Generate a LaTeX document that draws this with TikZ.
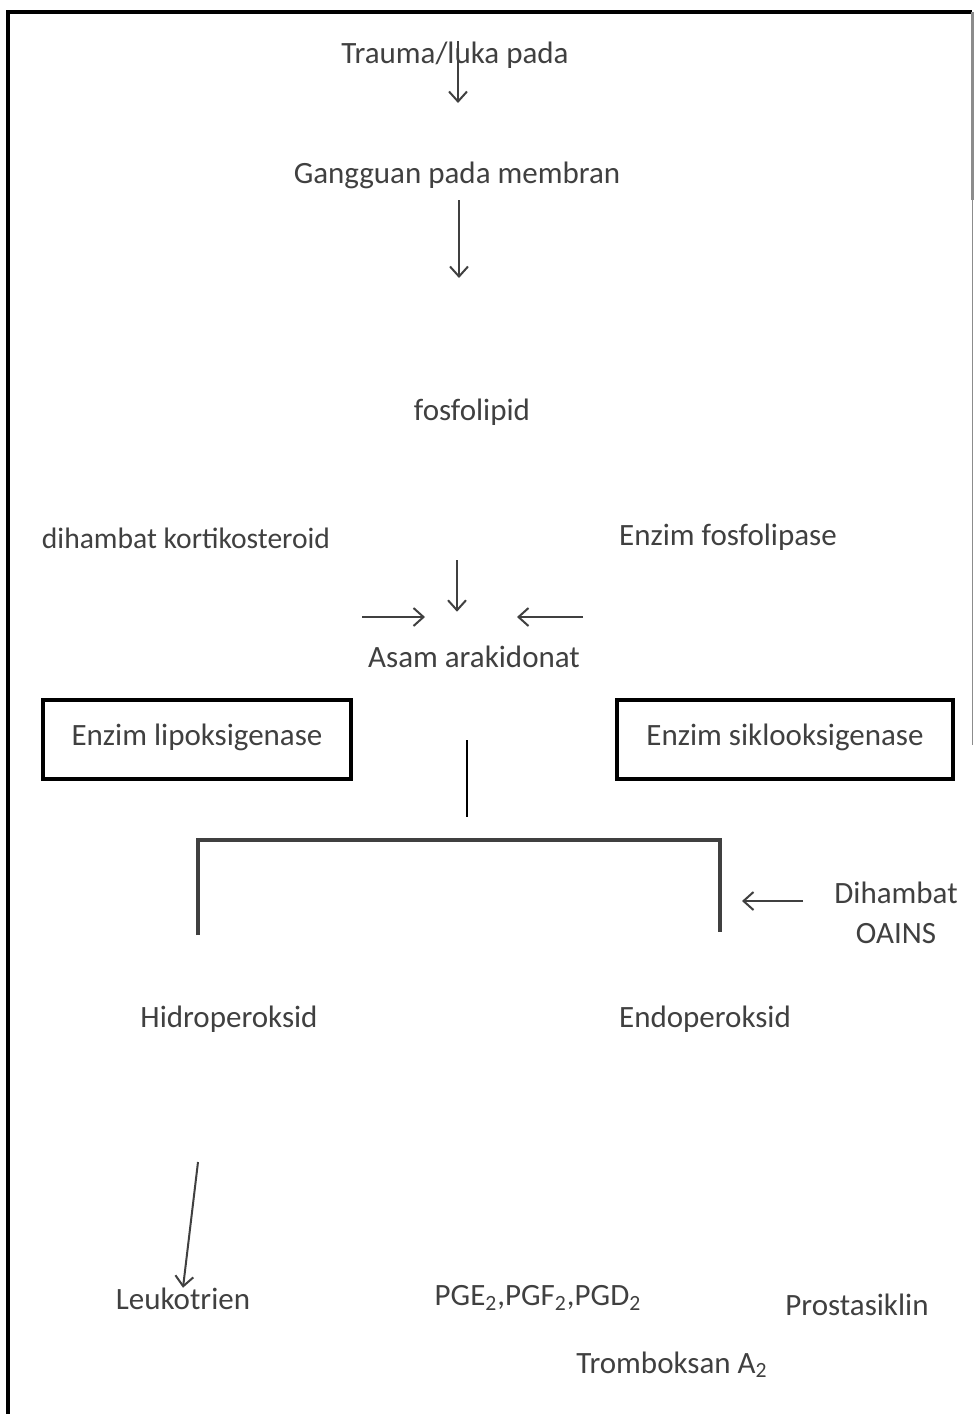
\documentclass[tikz,border=0pt]{standalone}
\usepackage{fontspec}
\setmainfont{Carlito}
\usetikzlibrary{positioning,arrows.meta}
\tikzset{
  txt/.style={font=\fontsize{15.5}{18}\selectfont, text=black!75, inner sep=0pt},
  arr/.style={-{Straight Barb[length=5pt,width=9pt]}, line width=1pt, black!75},
  enzbox/.style={txt, draw=black, line width=1.6pt, inner sep=0pt},
}
\begin{document}
\begin{tikzpicture}[x=0.5pt,y=-0.5pt]
\useasboundingbox (0,0) rectangle (976,1414);
% frame
\draw[line width=2pt] (8,1414) -- (8,12) -- (972,12);
\draw[black!45, line width=1.5pt] (972,12) -- (972,200);
\draw[black!45, line width=0.5pt] (972,200) -- (972,745);

% texts
\node[txt] (trauma) at (455,55) {Trauma/luka pada};
\node[txt] (membran) at (457,175) {Gangguan pada membran};
\node[txt] (fosfo) at (472,412) {fosfolipid};
\node[txt, font=\fontsize{14.8}{18}\selectfont] (kortiko) at (186,538) {dihambat kortikosteroid};
\node[txt] (fosfolipase) at (728,537) {Enzim fosfolipase};
\node[txt] (asam) at (474,657) {Asam arakidonat};
\node[enzbox, minimum width=154pt, minimum height=39.5pt] (lipo) at (197,739.5) {\raisebox{5pt}{Enzim lipoksigenase}};
\node[enzbox, minimum width=168pt, minimum height=39.5pt] (siklo) at (785,739.5) {\raisebox{5pt}{Enzim siklooksigenase}};
\node[txt, align=center] (oains) at (896,913) {Dihambat\\[2pt]OAINS};
\node[txt] (hidro) at (229,1019) {Hidroperoksid};
\node[txt] (endo) at (705,1019) {Endoperoksid};
\node[txt] (leuko) at (183,1299) {Leukotrien};
\node[txt] (pg) at (538,1298) {PGE\textsubscript{2},PGF\textsubscript{2},PGD\textsubscript{2}};
\node[txt] (prosta) at (857,1305) {Prostasiklin};
\node[txt] (trombo) at (672,1365) {Tromboksan A\textsubscript{2}};

% free ends
\coordinate (t1) at (458,103);
\coordinate (m0) at (459,200);
\coordinate (m1) at (459,278);
\coordinate (f1) at (457,560);
\coordinate (kl) at (362,617);
\coordinate (kr) at (425,617);
\coordinate (el) at (583,617);
\coordinate (er) at (517,617);
\coordinate (s0) at (467,740);
\coordinate (s1) at (467,817);
\coordinate (bl) at (198,935);
\coordinate (br) at (720,932);
\coordinate (o1) at (803,901);
\coordinate (o2) at (742,901);
\coordinate (h1) at (198,1162);

% arrows
\draw[arr] (trauma.north -| t1) -- (t1);
\draw[arr] (m0) -- (m1);
\draw[arr] (f1) -- (asam.north -| f1) [shorten >=17pt];
\draw[arr] (kl) -- (kr);
\draw[arr] (el) -- (er);
\draw[line width=1.2pt] (s0) -- (s1);
\draw[line width=1.6pt, black!75] (bl) |- (467,840) -| (br);
\draw[arr] (o1) -- (o2);
\draw[arr] (h1) -- (leuko.north);
\end{tikzpicture}
\end{document}
